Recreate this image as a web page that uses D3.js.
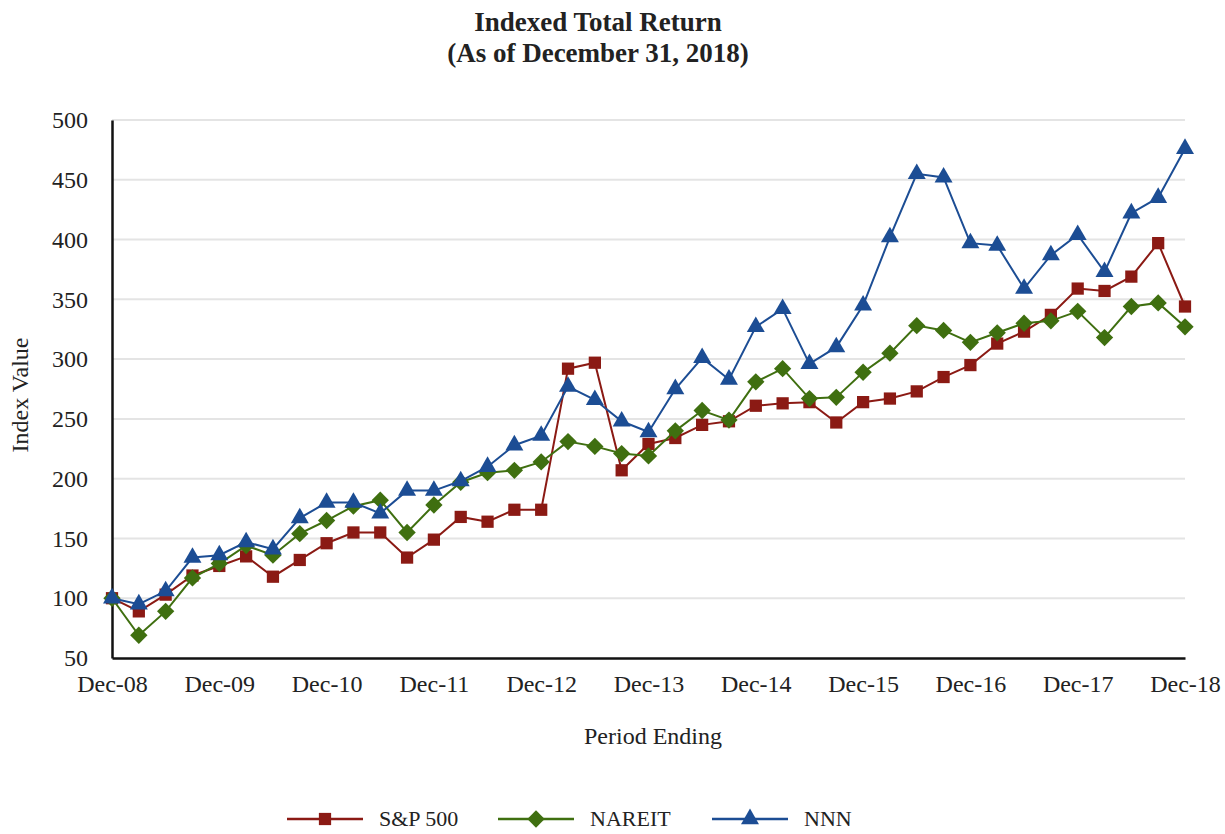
<!DOCTYPE html>
<html>
<head>
<meta charset="utf-8">
<script src="https://cdn.jsdelivr.net/npm/d3@7"></script>
<style>
  body { margin: 0; background: #fff; }
  text { font-family: "Liberation Serif", "Times New Roman", serif; fill: #222; }
</style>
</head>
<body>
<div id="chart"></div>
<script>
// quarterly periods, Dec-08 .. Dec-18
const periods = d3.range(41);
const yearLabels = ["Dec-08", "Dec-09", "Dec-10", "Dec-11", "Dec-12", "Dec-13",
                    "Dec-14", "Dec-15", "Dec-16", "Dec-17", "Dec-18"];

const sp500 = [100, 89, 103, 119, 127, 135, 118, 132, 146, 155, 155, 134, 149, 168, 164, 174, 174,
               292, 297, 207, 229, 234, 245, 248, 261, 263, 264, 247, 264, 267, 273, 285, 295,
               313, 323, 337, 359, 357, 369, 397, 344];
const nareit = [100, 69, 89, 117, 129, 144, 136, 154, 165, 177, 182, 155, 178, 197, 205, 207, 214,
                231, 227, 221, 219, 240, 257, 249, 281, 292, 267, 268, 289, 305, 328, 324, 314,
                322, 330, 332, 340, 318, 344, 347, 327];
const nnn = [100, 95, 106, 134, 136, 147, 141, 167, 180, 180, 171, 190, 190, 198, 210, 228, 236,
             277, 266, 248, 239, 275, 301, 283, 327, 342, 296, 310, 345, 402, 455, 452, 397,
             395, 359, 387, 404, 373, 422, 435, 476];

const seriesNames = ["S&P 500", "NAREIT", "NNN"];
const seriesColors = ["#8b1a14", "#3f6f10", "#1c4d94"];
const yTicks = [50, 100, 150, 200, 250, 300, 350, 400, 450, 500];

const W = 1225, H = 834;
const margin = {top: 120, left: 112, right: 40, bottom: 176};

const svg = d3.select("#chart").append("svg")
    .attr("width", W)
    .attr("height", H);

const x = d3.scaleLinear().domain([0, 40]).range([margin.left, W - margin.right]);
const y = d3.scaleLinear().domain([50, 500]).range([H - margin.bottom, margin.top]);

// markers: square, diamond (square turned 45deg), triangle
const squareSym = d3.symbol().type(d3.symbolSquare).size(150)();
const triSym = d3.symbol().type(d3.symbolTriangle).size(140)();

// gridlines
svg.append("g")
    .selectAll("line")
    .data(yTicks.slice(1))
    .enter().append("line")
    .attr("x1", x(0)).attr("x2", x(40))
    .attr("y1", d => y(d)).attr("y2", d => y(d))
    .attr("stroke", "#e4e4e4")
    .attr("stroke-width", 2);

// y axis
const yAxis = svg.append("g")
    .attr("transform", "translate(" + x(0) + ",0)")
    .call(d3.axisLeft(y).tickValues(yTicks).tickSize(0).tickPadding(24));
yAxis.select(".domain").attr("stroke", "#111").attr("stroke-width", 2.5);
yAxis.selectAll("text").style("font-size", "24px").attr("fill", "#222");

// x axis
const xAxis = svg.append("g")
    .attr("transform", "translate(0," + y(50) + ")")
    .call(d3.axisBottom(x).tickValues(d3.range(0, 41, 4)).tickSize(0).tickPadding(17)
        .tickFormat((d, i) => yearLabels[i]));
xAxis.select(".domain").attr("stroke", "#111").attr("stroke-width", 2.5);
xAxis.selectAll("text").style("font-size", "24px").attr("fill", "#222");

// titles
svg.append("text").attr("x", 598).attr("y", 31).attr("text-anchor", "middle")
    .style("font-size", "27px").style("font-weight", "bold").text("Indexed Total Return");
svg.append("text").attr("x", 598).attr("y", 62).attr("text-anchor", "middle")
    .style("font-size", "27px").style("font-weight", "bold").text("(As of December 31, 2018)");

svg.append("text")
    .attr("transform", "translate(28," + (y(270)) + ") rotate(-90)")
    .attr("text-anchor", "middle")
    .style("font-size", "24px")
    .text("Index Value");

svg.append("text").attr("x", 653).attr("y", 744).attr("text-anchor", "middle")
    .style("font-size", "24px").text("Period Ending");

// series
const allSeries = [sp500, nareit, nnn];
const line = d3.line().x((d, i) => x(periods[i])).y(d => y(d));

allSeries.forEach(function(vals, k) {
    const g = svg.append("g");
    g.append("path")
        .datum(vals)
        .attr("d", line)
        .attr("fill", "none")
        .attr("stroke", seriesColors[k])
        .attr("stroke-width", 2);
    g.selectAll("path.mark")
        .data(vals)
        .enter().append("path")
        .attr("class", "mark")
        .attr("d", k === 2 ? triSym : squareSym)
        .attr("transform", (d, i) => "translate(" + x(periods[i]) + "," + y(d) + ")" +
            (k === 1 ? " rotate(45)" : ""))
        .attr("fill", seriesColors[k]);
});

// legend
const legendX = [287, 498, 712];
const legend = svg.append("g");
seriesNames.forEach(function(name, k) {
    const lg = legend.append("g").attr("transform", "translate(" + legendX[k] + ",819)");
    lg.append("line").attr("x1", 0).attr("x2", 76)
        .attr("stroke", seriesColors[k]).attr("stroke-width", 2.5);
    lg.append("path")
        .attr("d", k === 2 ? triSym : squareSym)
        .attr("transform", "translate(38,0)" + (k === 1 ? " rotate(45)" : ""))
        .attr("fill", seriesColors[k]);
    lg.append("text").attr("x", 92).attr("y", 7)
        .style("font-size", "22px").text(name);
});
</script>
</body>
</html>
